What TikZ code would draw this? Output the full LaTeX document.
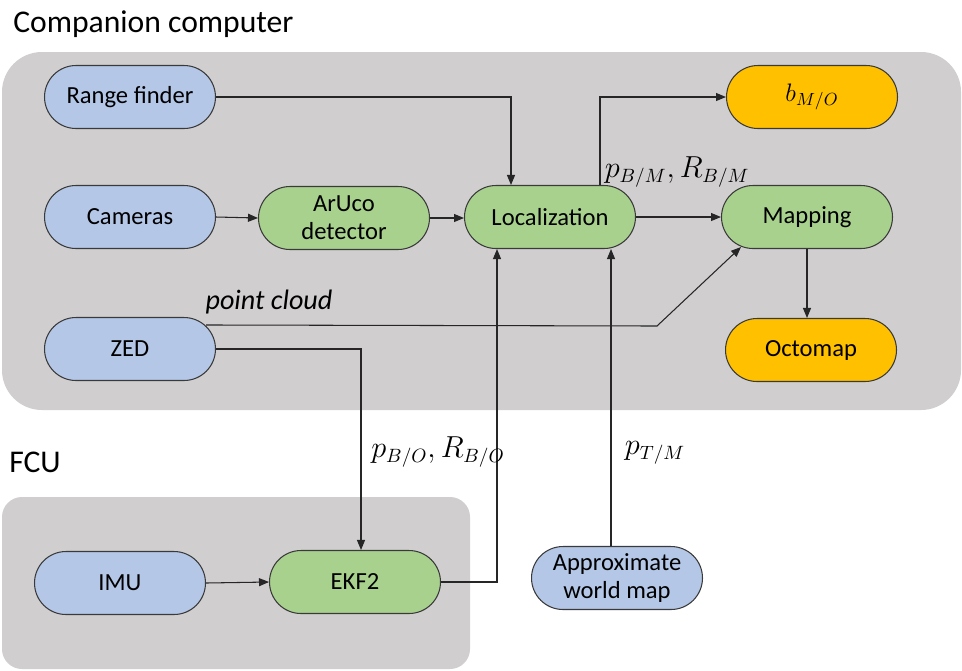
\documentclass[tikz,border=0pt]{standalone}
\usepackage{fontspec}
\setmainfont{Carlito}
\usetikzlibrary{arrows.meta}
\definecolor{sensorblue}{HTML}{B4C7E7}
\definecolor{procgreen}{HTML}{A9D18E}
\definecolor{outorange}{HTML}{FFC000}
\definecolor{panelgray}{HTML}{D0CECE}
\definecolor{edgegray}{HTML}{3A3A3A}
\begin{document}
\begin{tikzpicture}[x=0.02cm,y=-0.02cm,
  block/.style={draw=edgegray,line width=0.6pt,minimum width=3.42cm,minimum height=1.26cm,
    rounded corners=0.63cm,align=center,inner sep=1pt,font=\fontsize{14}{16}\selectfont},
  sensor/.style={block,fill=sensorblue},
  proc/.style={block,fill=procgreen},
  result/.style={block,fill=outorange},
  link/.style={line width=0.6pt,draw=black!85,-{Triangle[length=0.2cm,width=0.16cm]}},
  tag/.style={font=\fontsize{16}{18}\selectfont,inner sep=0pt}]
\useasboundingbox (0,0) rectangle (962,670);
\fill[panelgray,rounded corners=0.8cm] (2,52) rectangle (961,410);
\fill[panelgray,rounded corners=0.4cm] (2,497) rectangle (470,669);
\node[anchor=west,inner sep=0pt,font=\fontsize{18}{20}\selectfont] (cctitle) at (13,24) {Companion computer};
\node[anchor=west,inner sep=0pt,font=\fontsize{18}{20}\selectfont] (fcutitle) at (9,462) {FCU};

\node[sensor] (range) at (130,97) {Range finder};
\node[sensor] (cams) at (130,217) {Cameras};
\node[sensor] (zed) at (130,349) {ZED};
\node[proc] (aruco) at (344,218) {ArUco\\detector};
\node[proc] (loc) at (550,217) {Localization};
\node[result] (bmo) at (812,97) {$b_{M/O}$};
\node[proc] (map) at (807,217) {Mapping};
\node[result] (octo) at (811,350) {Octomap};
\node[sensor] (imu) at (120,583) {IMU};
\node[proc] (ekf) at (355,582) {EKF2};
\node[sensor] (world) at (617,578) {Approximate\\world map};
\coordinate (pcbend) at (657,326);

\draw[link] (range.east) -| ([shift={(-39,0)}]loc.north);
\draw[link] (cams.east) -- (aruco.west);
\draw[link] (aruco.west -| aruco.east) -- (loc.west |- aruco.east);
\draw[link] ([shift={(50,0)}]loc.north) |- (bmo.west);
\draw[link] (loc.east) -- (map.west);
\draw[link] ([shift={(-10,8)}]zed.north east) -- (pcbend) -- ([shift={(20,-2)}]map.south west);
\draw[link] (zed.east) -| ([shift={(6,0)}]ekf.north);
\draw[link] (ekf.east) -| ([shift={(-53,0)}]loc.south);
\draw[link] ([shift={(-6,0)}]world.north) -- ([shift={(-6,0)}]world.north |- loc.south);
\draw[link] (map.south) -- (map.south |- octo.north);
\draw[link] (imu.east) -- (ekf.west);

\node[tag,font=\fontsize{16}{18}\selectfont\itshape] (pclabel) at (269,302) {point cloud};
\node[tag] (bmlabel) at (677,172) {$p_{B/M}, R_{B/M}$};
\node[tag] (bolabel) at (438,452) {$p_{B/O}, R_{B/O}$};
\node[tag] (tmlabel) at (655,453) {$p_{T/M}$};
\end{tikzpicture}
\end{document}
